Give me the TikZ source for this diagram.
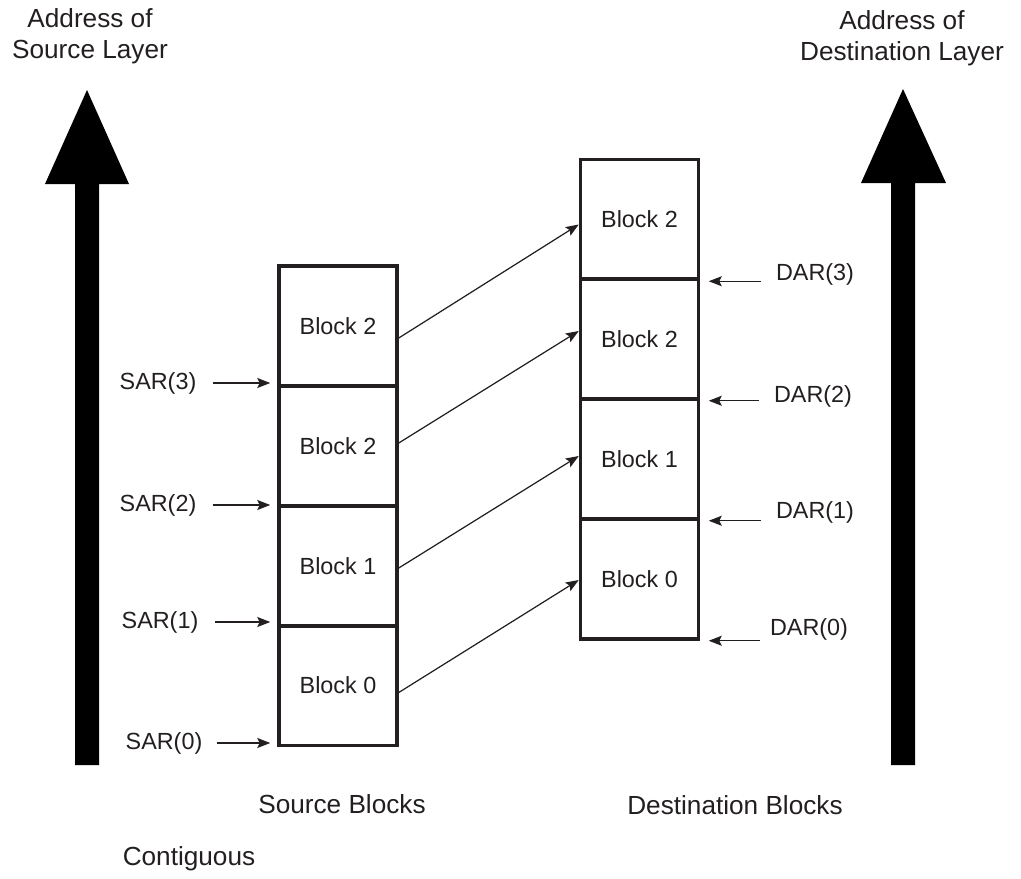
\documentclass[tikz,border=0pt]{standalone}
\usepackage{fontspec}
\setmainfont{Liberation Sans}
\usetikzlibrary{arrows.meta, calc}
\definecolor{ink}{RGB}{35,31,32}

\begin{document}
\begin{tikzpicture}[x=0.02cm, y=-0.02cm,
	block/.style={draw=ink, line width=2pt, minimum width=2.36cm, minimum height=2.4cm, inner sep=0pt, text=ink, font=\fontsize{13.3}{16}\selectfont},
	tag/.style={text=ink, inner sep=0pt, font=\fontsize{13.3}{16}\selectfont},
	caption/.style={text=ink, inner sep=0pt, align=center, font=\fontsize{14.9}{17.8}\selectfont},
	pointer/.style={draw=ink, line width=0.7pt, -{Stealth[length=2.6mm, width=2mm, inset=0.5mm]}}]
	\useasboundingbox (0, 0) rectangle (1021, 879);
	% Address arrows:
	\fill[black] (75, 765) -- (75, 184) -- (45, 184) -- (87, 90) -- (129, 184) -- (99, 184) -- (99, 765) -- cycle;
	\fill[black] (891, 765) -- (891, 183) -- (861, 183) -- (903, 89) -- (946, 183) -- (915, 183) -- (915, 765) -- cycle;
	\node[caption] (N1) at (90, 36) {Address of\\Source Layer};
	\node[caption] (N2) at (902, 38) {Address of\\Destination Layer};
	% Source blocks:
	\node[block] (S3) at (338, 326) {Block 2};
	\node[block] (S2) at (338, 446) {Block 2};
	\node[block] (S1) at (338, 566) {Block 1};
	\node[block] (S0) at (338, 685.5) {Block 0};
	% Destination blocks:
	\node[block] (D3) at (639.5, 219.5) {Block 2};
	\node[block] (D2) at (639.5, 339) {Block 2};
	\node[block] (D1) at (639.5, 459) {Block 1};
	\node[block] (D0) at (639.5, 579) {Block 0};
	% Copy arrows:
	\draw[pointer] ($(S3.east)+(0, 12)$) -- ($(D3.west)+(0, 5)$);
	\draw[pointer] ($(S2.east)+(0, -3)$) -- ($(D2.west)+(0, -8)$);
	\draw[pointer] ($(S1.east)+(0, 2)$) -- ($(D1.west)+(0, -3)$);
	\draw[pointer] ($(S0.east)+(0, 7)$) -- ($(D0.west)+(0, 1)$);
	% Source address registers:
	\node[tag] (SAR3) at (158, 383) {SAR(3)};
	\node[tag] (SAR2) at (158, 505) {SAR(2)};
	\node[tag] (SAR1) at (160, 622) {SAR(1)};
	\node[tag] (SAR0) at (164, 743) {SAR(0)};
	\draw[pointer, shorten <=0.32cm, shorten >=0.14cm] (SAR3.east) -- (SAR3.east -| S3.south west);
	\draw[pointer, shorten <=0.32cm, shorten >=0.14cm] (SAR2.east) -- (SAR2.east -| S2.south west);
	\draw[pointer, shorten <=0.32cm, shorten >=0.14cm] (SAR1.east) -- (SAR1.east -| S1.south west);
	\draw[pointer, shorten <=0.28cm, shorten >=0.14cm] (SAR0.east) -- (SAR0.east -| S0.south west);
	% Destination address registers:
	\node[tag] (DAR3) at (815, 274) {DAR(3)};
	\node[tag] (DAR2) at (813, 396) {DAR(2)};
	\node[tag] (DAR1) at (815, 512) {DAR(1)};
	\node[tag] (DAR0) at (809, 629) {DAR(0)};
	\draw[pointer, shorten <=0.3cm, shorten >=0.17cm] (DAR3.west |- D3.south east) -- (D3.south east);
	\draw[pointer, shorten <=0.3cm, shorten >=0.17cm] (DAR2.west |- D2.south east) -- (D2.south east);
	\draw[pointer, shorten <=0.3cm, shorten >=0.17cm] (DAR1.west |- D1.south east) -- (D1.south east);
	\draw[pointer, shorten <=0.2cm, shorten >=0.17cm] (DAR0.west |- D0.south east) -- (D0.south east);
	% Captions:
	\node[caption] (N3) at (342, 804) {Source Blocks};
	\node[caption] (N4) at (735, 805) {Destination Blocks};
	\node[caption] (N5) at (189, 859) {Contiguous};
\end{tikzpicture}
\end{document}
